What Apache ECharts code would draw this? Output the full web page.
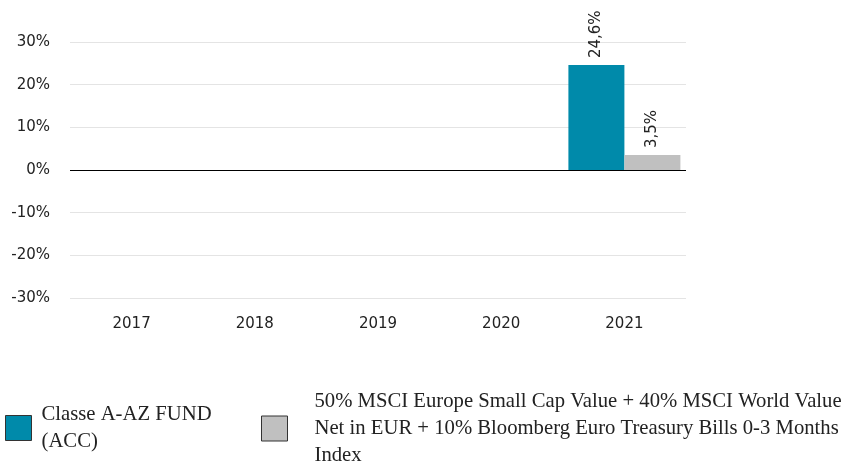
<!DOCTYPE html>
<html>
<head>
<meta charset="utf-8">
<script src="https://cdn.jsdelivr.net/npm/echarts@6/dist/echarts.min.js"></script>
<style>
  html, body { margin: 0; padding: 0; background: #fff; }
  #chart { width: 844px; height: 461px; }
</style>
</head>
<body>
<div id="chart"></div>
<script>
const years = ['2017', '2018', '2019', '2020', '2021']
const fundValues = [null, null, null, null, 24.6]
const benchValues = [null, null, null, null, 3.5]
const fundName = 'Classe A-AZ FUND\n(ACC)'
const benchName = '50% MSCI Europe Small Cap Value + 40% MSCI World Value\nNet in EUR + 10% Bloomberg Euro Treasury Bills 0-3 Months\nIndex'

const chart = echarts.init(document.getElementById('chart'))

// etichette ruotate sopra le barre
const valueLabel = {
  show: true,
  position: 'top',
  rotate: 90,
  align: 'left',
  verticalAlign: 'middle',
  distance: 7,
  color: '#222',
  fontSize: 15,
  fontFamily: 'DejaVu Sans',
  formatter: p => String(p.value).replace('.', ',') + '%'
}

const legendText = { fontFamily: 'Liberation Serif', fontSize: 20.7, lineHeight: 27, color: '#222' }

chart.setOption({
  animation: false,
  grid: { left: 70, right: 158, top: 42, bottom: 163 },
  legend: [
    {
      data: [{ name: fundName, icon: 'rect' }],
      left: 0,
      top: 396,
      itemWidth: 26,
      itemHeight: 25,
      selectedMode: false,
      itemStyle: { borderColor: '#333', borderWidth: 1 },
      textStyle: Object.assign({ padding: [0, 0, 0, 5] }, legendText)
    },
    {
      data: [{ name: benchName, icon: 'rect' }],
      left: 256,
      top: 383,
      itemWidth: 26,
      itemHeight: 25,
      selectedMode: false,
      itemStyle: { borderColor: '#333', borderWidth: 1 },
      textStyle: Object.assign({ padding: [0, 0, 0, 22] }, legendText)
    }
  ],
  xAxis: {
    type: 'category',
    data: years,
    axisLine: { show: false, onZero: false },
    axisTick: { show: false },
    axisLabel: { color: '#222', fontSize: 15, fontFamily: 'DejaVu Sans', margin: 19 }
  },
  yAxis: {
    type: 'value',
    min: -30,
    max: 30,
    interval: 10,
    axisLine: { show: false },
    axisTick: { show: false },
    splitLine: { lineStyle: { color: '#e4e4e4', width: 1 } },
    axisLabel: { color: '#222', fontSize: 15, fontFamily: 'DejaVu Sans', margin: 20, formatter: '{value}%' }
  },
  series: [
    {
      name: fundName,
      type: 'bar',
      data: fundValues,
      barWidth: 56,
      barGap: '0%',
      itemStyle: { color: '#008aaa' },
      label: valueLabel,
      markLine: {
        silent: true,
        symbol: 'none',
        label: { show: false },
        lineStyle: { color: '#000', type: 'solid', width: 1 },
        data: [{ yAxis: 0 }]
      }
    },
    {
      name: benchName,
      type: 'bar',
      data: benchValues,
      barWidth: 56,
      barGap: '0%',
      itemStyle: { color: '#c0c0c0' },
      label: valueLabel
    }
  ]
})
</script>
</body>
</html>
